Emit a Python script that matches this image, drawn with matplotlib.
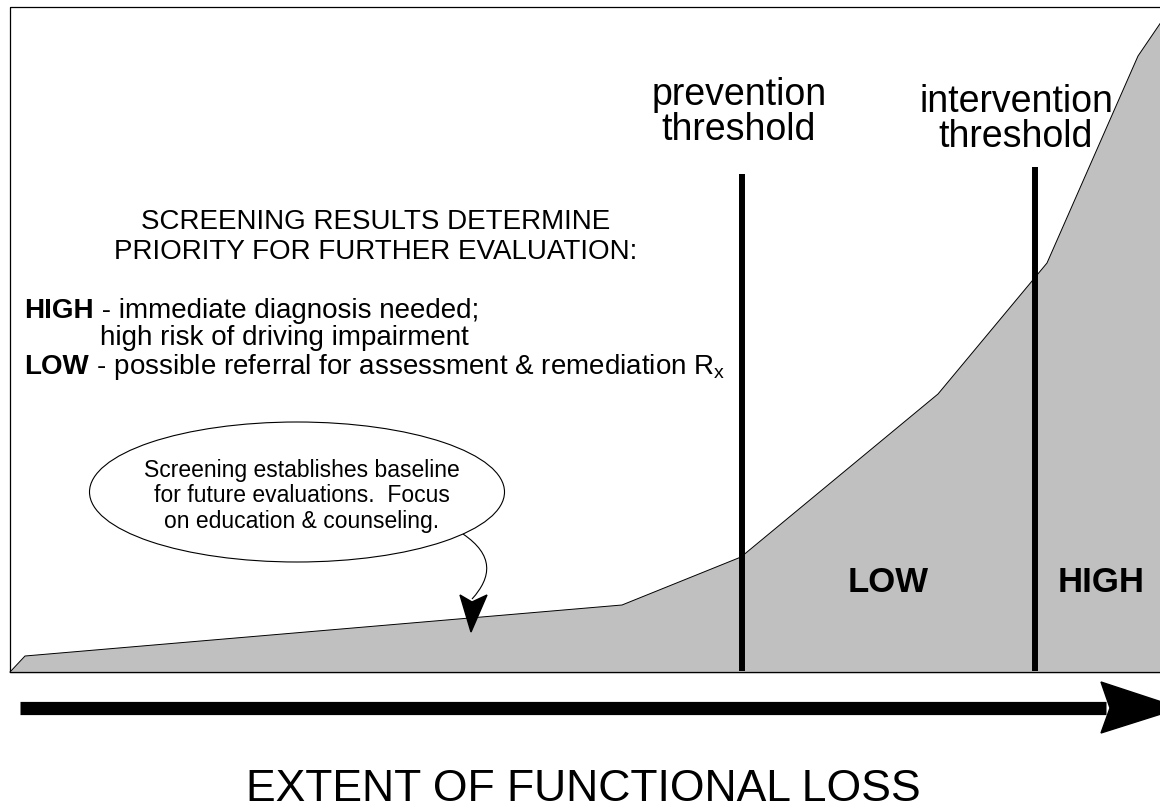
import matplotlib

matplotlib.use("Agg")
import matplotlib.pyplot as plt
from matplotlib.patches import Ellipse, Polygon, PathPatch, Rectangle
from matplotlib.path import Path

# curve of functional loss (pixel-like units, y grows downward)
loss_x = [10, 25, 622, 741, 938, 1047, 1138, 1170]
loss_y = [673, 657, 606, 558, 395, 264, 57, 10]
baseline_y = 673

# thresholds: position, top of line, label
threshold_x = [742, 1035]
threshold_top = [175, 168]
threshold_labels = ["prevention\nthreshold", "intervention\nthreshold"]
threshold_label_x = [739, 1016]
threshold_label_y = [140, 147]

zone_labels = ["LOW", "HIGH"]
zone_label_x = [888, 1101]
zone_label_y = 583

heading_lines = ["SCREENING RESULTS DETERMINE", "PRIORITY FOR FURTHER EVALUATION:"]
priority_keys = ["HIGH", "", "LOW"]
priority_texts = [" - immediate diagnosis needed;",
                  "high risk of driving impairment",
                  r" - possible referral for assessment & remediation R$_\mathregular{x}$"]
priority_x = [24, 100, 24]
priority_y = [318, 345, 374]

callout_text = "Screening establishes baseline\nfor future evaluations.  Focus\non education & counseling."

GREY = "#C0C0C0"
FONT = "Liberation Sans"
plt.rcParams["font.family"] = [FONT, "DejaVu Sans"]

fig = plt.figure(figsize=(11.6, 8.12), dpi=100)
ax = fig.add_axes([0, 0, 1, 1])
ax.set_xlim(0, 1160)
ax.set_ylim(812, 0)
ax.axis("off")

# frame
ax.add_patch(Rectangle((10, 8), 1170, baseline_y - 8, fill=False, edgecolor="black", linewidth=0.9))

# filled curve
ax.fill_between(loss_x, loss_y, baseline_y, facecolor=GREY, edgecolor="none")
ax.plot(loss_x, loss_y, color="black", linewidth=0.7)
ax.plot([loss_x[0], loss_x[-1]], [baseline_y, baseline_y], color="black", linewidth=0.9)

# thresholds
for x, top, lab, lx, ly in zip(threshold_x, threshold_top, threshold_labels,
                               threshold_label_x, threshold_label_y):
    ax.plot([x, x], [top, baseline_y - 1], color="black", linewidth=4.3, solid_capstyle="butt")
    ax.text(lx, ly, lab, ha="center", va="baseline", fontsize=27, linespacing=0.98)

for lab, x in zip(zone_labels, zone_label_x):
    ax.text(x, zone_label_y, lab, ha="center", va="center", fontsize=25, fontweight="bold")

# priority text block
for i, line in enumerate(heading_lines):
    ax.text(376, 222 + 30 * i, line, ha="center", va="center", fontsize=20)

fig.canvas.draw()
renderer = fig.canvas.get_renderer()
inv = ax.transData.inverted()
for key, txt, x, y in zip(priority_keys, priority_texts, priority_x, priority_y):
    if key:
        t = ax.text(x, y, key, ha="left", va="baseline", fontsize=20, fontweight="bold")
        bb = t.get_window_extent(renderer)
        x = inv.transform((bb.x1, bb.y0))[0]
    ax.text(x, y, txt, ha="left", va="baseline", fontsize=20)

# callout
ax.add_patch(Ellipse((297, 493), 415, 140, facecolor="white", edgecolor="black",
                     linewidth=0.8))
ax.text(302, 496, callout_text, ha="center", va="center", fontsize=16.5, linespacing=1.12)
tail = Path([(463, 535), (494, 556), (492, 578), (472, 600)],
            [Path.MOVETO, Path.CURVE4, Path.CURVE4, Path.CURVE4])
ax.add_patch(PathPatch(tail, facecolor="none", edgecolor="black", linewidth=0.8))
ax.add_patch(Polygon([(460, 596), (472, 603), (487, 596), (471, 633)],
                     closed=True, facecolor="black", edgecolor="black"))

# big axis arrow
ax.plot([20, 1106], [709, 709], color="black", linewidth=9.5, solid_capstyle="butt")
ax.add_patch(Polygon([(1101, 683), (1180, 709), (1101, 734), (1110, 709)],
                     closed=True, facecolor="black", edgecolor="black"))

ax.text(583, 801, "EXTENT OF FUNCTIONAL LOSS", ha="center", va="baseline", fontsize=32)

fig.savefig("out.png", dpi=100, facecolor="white")
